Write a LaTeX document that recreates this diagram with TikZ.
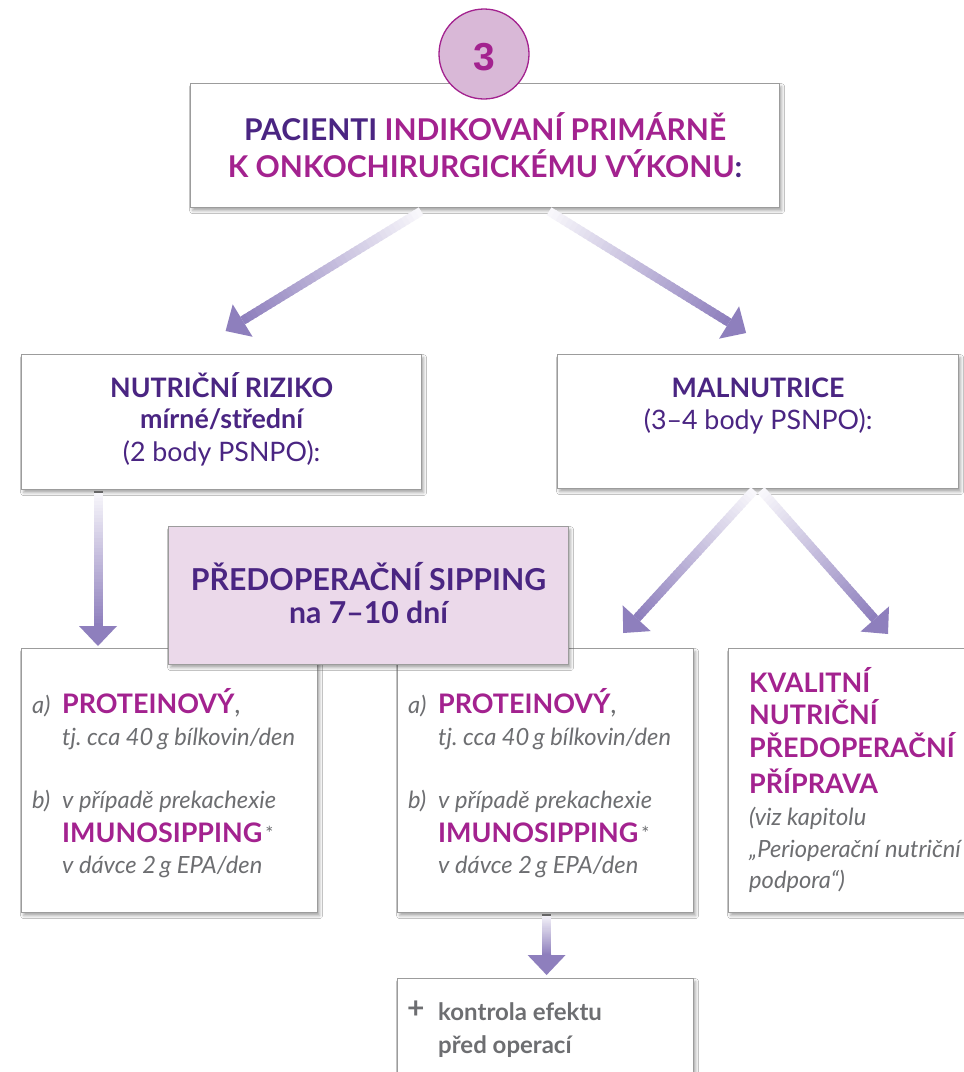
\documentclass[tikz,border=0pt]{standalone}
\usepackage{fontspec}
\setmainfont{Lato}
\newfontfamily\digitfont{Liberation Sans}
\usetikzlibrary{calc,shadows.blur}
\definecolor{dpurple}{HTML}{4A2582}
\definecolor{magen}{HTML}{A3228F}
\definecolor{gtext}{HTML}{6D6E71}
\definecolor{circfill}{HTML}{D9B8D7}
\definecolor{pinkfill}{HTML}{EBD9EA}
\definecolor{boxline}{HTML}{9C9C9C}
\definecolor{arrowc}{HTML}{8E7FBD}
\definecolor{tickc}{HTML}{666666}
\frenchspacing
\newcommand\fTitle{\fontsize{30}{34}\selectfont\bfseries}
\newcommand\fHead{\fontsize{26.8}{30}\selectfont\bfseries}
\newcommand\fReg{\fontsize{26.8}{30}\selectfont}
\newcommand\fPink{\fontsize{30.2}{34}\selectfont\bfseries}
\newcommand\fMag{\fontsize{26.9}{30}\selectfont\bfseries}
\newcommand\fItal{\fontsize{23.7}{27}\selectfont\itshape}
\newcommand\fKon{\fontsize{24}{27}\selectfont\bfseries}
\newcommand\astx{\hspace{3pt}{\color{gtext}\mdseries\fontsize{19}{19}\selectfont\raisebox{2pt}{*}}}
\newcommand\gradarrow[2]{%
  \coordinate (gm) at ($(#2)!20pt!(#1)$);
  \foreach \i in {1,...,40}{%
    \pgfmathsetmacro\pa{(\i-1)/40}%
    \pgfmathsetmacro\pb{min(1,\i/40+0.012)}%
    \pgfmathtruncatemacro\pc{4+96*\i/40}%
    \draw[line width=9pt, arrowc!\pc!white] ($(#1)!\pa!(gm)$) -- ($(#1)!\pb!(gm)$);
  }%
  \fill[arrowc] (#2) -- ($(gm)!19pt!90:(#2)$) -- ($(gm)!19pt!-90:(#2)$) -- cycle;
}
\begin{document}
\begin{tikzpicture}[x=1pt,y=-1pt]
\tikzset{
  box/.style={draw=boxline, line width=1.2pt, fill=white, inner sep=0pt, anchor=north west,
    blur shadow={shadow xshift=2pt, shadow yshift=-3pt, shadow blur radius=3pt, shadow opacity=35}},
  lbl/.style={inner sep=0pt, anchor=base west},
  ctr/.style={inner sep=0pt, anchor=base},
}
\useasboundingbox (0,0) rectangle (964,1072);
\clip (0,0) rectangle (964,1072);
\fill[white] (0,0) rectangle (964,1072);

% boxes
\node[box, minimum width=589pt, minimum height=124pt] (title) at (190,83) {};
\node[box, minimum width=400pt, minimum height=135pt] (nr) at (21,354) {};
\node[box, minimum width=401pt, minimum height=134pt] (mal) at (557,354) {};
\node[box, minimum width=296pt, minimum height=264pt] (lb) at (21,648) {};
\node[box, minimum width=296pt, minimum height=264pt] (mb) at (397,648) {};
\node[box, minimum width=270pt, minimum height=264pt] (rb) at (728,648) {};
\node[box, minimum width=296pt, minimum height=130pt] (kb) at (397,978) {};
\node[box, fill=pinkfill, minimum width=400pt, minimum height=138pt] (pink) at (168,526) {};

% circle
\node[circle, draw=magen, line width=1.3pt, fill=circfill, minimum size=90pt, inner sep=0pt] (num) at (484,54) {};
\node[ctr, font=\digitfont\fontsize{39}{40}\selectfont\bfseries, text=magen] (numtxt) at ($(num.center)+(0,16)$) {3};

% title text
\node[ctr, font=\fTitle, text=magen] (t1) at ($(title.north)+(0,57)$) {{\color{dpurple}PACIENTI} INDIKOVANÍ PRIMÁRNĚ};
\node[ctr, font=\fTitle, text=magen] (t2) at ($(title.north)+(0,94)$) {K ONKOCHIRURGICKÉMU VÝKONU{\color{dpurple}:}};

% nutricni riziko
\node[ctr, font=\fHead, text=dpurple] (n1) at ($(nr.north)+(0,43)$) {NUTRIČNÍ RIZIKO};
\node[ctr, font=\fHead, text=dpurple] (n2) at ($(nr.north)+(0,74)$) {mírné/střední};
\node[ctr, font=\fReg, text=dpurple] (n3) at ($(nr.north)+(0,107)$) {(2 body PSNPO):};

% malnutrice
\node[ctr, font=\fHead, text=dpurple] (m1) at ($(mal.north)+(0,43)$) {MALNUTRICE};
\node[ctr, font=\fReg, text=dpurple] (m2) at ($(mal.north)+(0,75)$) {(3–4 body PSNPO):};

% pink
\node[ctr, font=\fPink, text=dpurple] (p1) at ($(pink.north)+(0,64)$) {PŘEDOPERAČNÍ SIPPING};
\node[ctr, font=\fPink, text=dpurple] (p2) at ($(pink.north)+(0,97)$) {na 7–10 dní};

% left box
\node[lbl, font=\fItal, text=gtext] (la) at ($(lb.north west)+(11,65)$) {a)};
\node[lbl, font=\fMag, text=magen] (lp) at ($(lb.north west)+(41,65)$) {PROTEINOVÝ{\color{gtext}\mdseries,}};
\node[lbl, font=\fItal, text=gtext] (lt) at ($(lb.north west)+(41,97)$) {tj. cca 40\,g bílkovin/den};
\node[lbl, font=\fItal, text=gtext] (lbb) at ($(lb.north west)+(11,160)$) {b)};
\node[lbl, font=\fItal, text=gtext] (lv) at ($(lb.north west)+(41,160)$) {v případě prekachexie};
\node[lbl, font=\fMag, text=magen] (li) at ($(lb.north west)+(41,194)$) {IMUNOSIPPING\astx};
\node[lbl, font=\fItal, text=gtext] (ld) at ($(lb.north west)+(41,225)$) {v dávce 2\,g EPA/den};

% middle box
\node[lbl, font=\fItal, text=gtext] (ma) at ($(mb.north west)+(11,65)$) {a)};
\node[lbl, font=\fMag, text=magen] (mp) at ($(mb.north west)+(41,65)$) {PROTEINOVÝ{\color{gtext}\mdseries,}};
\node[lbl, font=\fItal, text=gtext] (mt) at ($(mb.north west)+(41,97)$) {tj. cca 40\,g bílkovin/den};
\node[lbl, font=\fItal, text=gtext] (mbb) at ($(mb.north west)+(11,160)$) {b)};
\node[lbl, font=\fItal, text=gtext] (mv) at ($(mb.north west)+(41,160)$) {v případě prekachexie};
\node[lbl, font=\fMag, text=magen] (mi) at ($(mb.north west)+(41,194)$) {IMUNOSIPPING\astx};
\node[lbl, font=\fItal, text=gtext] (md) at ($(mb.north west)+(41,225)$) {v dávce 2\,g EPA/den};

% right box
\node[lbl, font=\fMag, text=magen] (r1) at ($(rb.north west)+(21,44)$) {KVALITNÍ};
\node[lbl, font=\fMag, text=magen] (r2) at ($(rb.north west)+(21,76)$) {NUTRIČNÍ};
\node[lbl, font=\fMag, text=magen] (r3) at ($(rb.north west)+(21,109)$) {PŘEDOPERAČNÍ};
\node[lbl, font=\fMag, text=magen] (r4) at ($(rb.north west)+(21,145)$) {PŘÍPRAVA};
\node[lbl, font=\fItal, text=gtext] (r5) at ($(rb.north west)+(21,177)$) {(viz kapitolu};
\node[lbl, font=\fItal, text=gtext] (r6) at ($(rb.north west)+(21,209)$) {„Perioperační nutriční};
\node[lbl, font=\fItal, text=gtext] (r7) at ($(rb.north west)+(21,240)$) {podpora“)};

% kontrola box
\node[lbl, font=\fontsize{30}{30}\selectfont\bfseries, text=gtext] (kplus) at ($(kb.north west)+(10,40)$) {+};
\node[lbl, font=\fKon, text=gtext] (k1) at ($(kb.north west)+(41,42)$) {kontrola efektu};
\node[lbl, font=\fKon, text=gtext] (k2) at ($(kb.north west)+(41,75)$) {před operací};

% arrows
\coordinate (a1s) at ($(title.south)+(-64,3)$);
\coordinate (a1t) at ($(nr.north)+(4,-23)$);
\coordinate (a2s) at ($(title.south)+(64,3)$);
\coordinate (a2t) at ($(mal.north)+(-12,-21)$);
\coordinate (a3s) at ($(nr.south west)+(77,1)$);
\coordinate (a3t) at ($(lb.north west)+(77,-2)$);
\coordinate (a4s) at ($(mal.south)+(-4,1)$);
\coordinate (a4t) at ($(mb.north east)+(-71,-15)$);
\coordinate (a5s) at ($(mal.south)+(3,1)$);
\coordinate (a5t) at ($(rb.north west)+(160,-14)$);
\coordinate (a6s) at ($(mb.south)+(1,1)$);
\coordinate (a6t) at ($(kb.north)+(1,-3)$);
\gradarrow{a1s}{a1t}
\gradarrow{a2s}{a2t}
\gradarrow{a3s}{a3t}
\gradarrow{a4s}{a4t}
\gradarrow{a5s}{a5t}
\gradarrow{a6s}{a6t}
\draw[line width=9pt, tickc] (a3s) -- ($(a3s)+(0,2)$);
\draw[line width=9pt, tickc] (a6s) -- ($(a6s)+(0,2)$);
\end{tikzpicture}
\end{document}
